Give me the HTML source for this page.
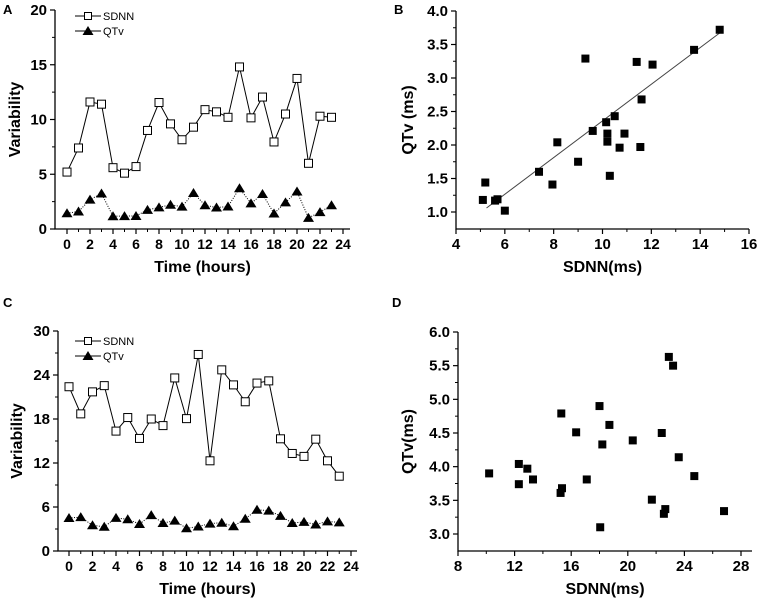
<!DOCTYPE html>
<html><head><meta charset="utf-8"><style>
body{margin:0;background:#fff;}
svg{display:block;font-family:"Liberation Sans",Arial,sans-serif;}
</style></head><body>
<svg id="fig" width="760" height="602" viewBox="0 0 760 602"></svg>
<script>
const hours = [0,1,2,3,4,5,6,7,8,9,10,11,12,13,14,15,16,17,18,19,20,21,22,23];
const sdnnA = [5.2,7.4,11.6,11.4,5.6,5.1,5.7,9.0,11.55,9.6,8.15,9.3,10.9,10.7,10.2,14.8,10.15,12.05,7.95,10.5,13.75,6.0,10.3,10.2];
const qtvA = [1.44,1.60,2.68,3.24,1.17,1.18,1.19,1.75,1.97,2.21,2.04,3.29,2.17,1.96,2.05,3.72,2.34,3.20,1.41,2.43,3.42,1.02,1.54,2.17];
const sdnnC = [22.4,18.7,21.7,22.55,16.35,18.2,15.35,18.0,17.1,23.6,18.05,26.8,12.3,24.7,22.65,20.35,22.9,23.2,15.3,13.3,12.9,15.25,12.3,10.2];
const qtvC = [4.50,4.62,3.51,3.30,4.51,4.33,3.68,4.90,3.81,4.14,3.10,3.34,3.74,3.86,3.37,4.39,5.63,5.50,4.79,3.81,3.97,3.61,4.04,3.90];
const fitB = [[5.25,1.06],[14.9,3.7]];
const ticksA_y = [0,5,10,15,20];
const ticksTime = [0,2,4,6,8,10,12,14,16,18,20,22,24];
const ticksB_x = [4,6,8,10,12,14,16];
const ticksB_y = [1.0,1.5,2.0,2.5,3.0,3.5,4.0];
const ticksC_y = [0,6,12,18,24,30];
const ticksD_x = [8,12,16,20,24,28];
const ticksD_y = [3.0,3.5,4.0,4.5,5.0,5.5,6.0];

const NS='http://www.w3.org/2000/svg';
const svg=document.getElementById('fig');
function el(tag,attrs,parent,text){const e=document.createElementNS(NS,tag);for(const k in attrs)e.setAttribute(k,attrs[k]);if(text!==undefined)e.textContent=text;(parent||svg).appendChild(e);return e;}
function lin(d0,d1,p0,p1){return v=>p0+(v-d0)*(p1-p0)/(d1-d0);}

function panel(c){
  const g=el('g',{});
  
  
  const X=lin(c.xd[0],c.xd[1],c.xp[0],c.xp[1]);
  const Y=lin(c.yd[0],c.yd[1],c.yp[0],c.yp[1]);
  const ax=el('path',{d:`M${c.axL},${c.axT} V${c.axB} H${c.axR}`,stroke:'#000','stroke-width':1.3,fill:'none'},g);
  
  
  c.yt.forEach(v=>{const y=Y(v);el('line',{x1:c.axL-5,x2:c.axL,y1:y,y2:y,stroke:'#000','stroke-width':1.2},g);
    const t=el('text',{x:c.axL-8,y:y+5,'text-anchor':'end','font-size':15,'font-weight':'bold'},g,c.yfmt(v));
    
    });
  for(let i=0;i<c.yt.length-1;i++){const y=Y((c.yt[i]+c.yt[i+1])/2);el('line',{x1:c.axL-3,x2:c.axL,y1:y,y2:y,stroke:'#000','stroke-width':1},g);}
  c.xt.forEach(v=>{const x=X(v);el('line',{x1:x,x2:x,y1:c.axB,y2:c.axB+5,stroke:'#000','stroke-width':1.2},g);
    const t=el('text',{x:x,y:c.axB+20,'text-anchor':'middle','font-size':c.xfs||15,'font-weight':'bold'},g,String(v));
    
    });
  for(let i=0;i<c.xt.length-1;i++){const x=X((c.xt[i]+c.xt[i+1])/2);el('line',{x1:x,x2:x,y1:c.axB,y2:c.axB+3,stroke:'#000','stroke-width':1},g);}
  const xt=el('text',{x:(c.axL+c.axR)/2,y:c.axB+43,'text-anchor':'middle','font-size':16,'font-weight':'bold'},g,c.xlabel);
  
  
  const cy=(c.axT+c.axB)/2;
  const yt=el('text',{x:c.ylx,y:cy,'text-anchor':'middle','font-size':16,'font-weight':'bold',transform:`rotate(-90 ${c.ylx} ${cy})`},g,c.ylabel);
  
  
  const pl=el('text',{x:c.lx,y:c.ly,'font-size':13,'font-weight':'bold'},g,c.letter);
  
  
  return {g,X,Y};
}
function sq(g,x,y,s,filled,name){const r=el('rect',{x:x-s/2,y:y-s/2,width:s,height:s,fill:filled?'#000':'#fff',stroke:'#000','stroke-width':1},g);
  
  }
function tri(g,x,y,name){const p=el('path',{d:`M${x},${y-5} L${x+5.5},${y+4} L${x-5.5},${y+4}Z`,fill:'#000'},g);
  
  }
function timeSeries(P,s1,s2){
  el('polyline',{points:hours.map((h,i)=>P.X(h)+','+P.Y(s2[i])).join(' '),fill:'none',stroke:'#000','stroke-width':1,'stroke-dasharray':'1,1.5'},P.g);
  el('polyline',{points:hours.map((h,i)=>P.X(h)+','+P.Y(s1[i])).join(' '),fill:'none',stroke:'#000','stroke-width':1},P.g);
  hours.forEach((h,i)=>sq(P.g,P.X(h),P.Y(s1[i]),8,false,'sdnn-point'));
  hours.forEach((h,i)=>tri(P.g,P.X(h),P.Y(s2[i]),'qtv-point'));
}
function legend(g,x,y){
  const l=el('g',{},g);
  
  
  el('line',{x1:x,x2:x+26,y1:y,y2:y,stroke:'#000'},l);sq(l,x+13,y,7,false,'legend-marker-sdnn');
  el('text',{x:x+28,y:y+4,'font-size':11},l,'SDNN');
  el('line',{x1:x,x2:x+26,y1:y+15,y2:y+15,stroke:'#000'},l);tri(l,x+13,y+15,'legend-marker-qtv');
  el('text',{x:x+28,y:y+19,'font-size':11},l,'QTv');
}
const f0=v=>String(v), f1=v=>v.toFixed(1);

const A=panel({name:'panel-a',letter:'A',lx:3,ly:14,xd:[0,24],xp:[67,343],yd:[0,20],yp:[229,10],axL:55,axR:350,axT:10,axB:229,
  xt:ticksTime,yt:ticksA_y,yfmt:f0,xlabel:'Time (hours)',ylabel:'Variability',ylx:20,xfs:14});
timeSeries(A,sdnnA,qtvA);legend(A.g,75,16);

const B=panel({name:'panel-b',letter:'B',lx:394,ly:14,xd:[4,16],xp:[456,749],yd:[1,4],yp:[212,11],axL:456,axR:749,axT:11,axB:229,
  xt:ticksB_x,yt:ticksB_y,yfmt:f1,xlabel:'SDNN(ms)',ylabel:'QTv (ms)',ylx:413});
const fl=el('line',{x1:B.X(fitB[0][0]),y1:B.Y(fitB[0][1]),x2:B.X(fitB[1][0]),y2:B.Y(fitB[1][1]),stroke:'#444','stroke-width':1},B.g);


sdnnA.forEach((v,i)=>sq(B.g,B.X(v),B.Y(qtvA[i]),7,true,'scatter-point'));

const C=panel({name:'panel-c',letter:'C',lx:3,ly:307,xd:[0,24],xp:[69,351],yd:[0,30],yp:[551,331],axL:58,axR:357,axT:331,axB:551,
  xt:ticksTime,yt:ticksC_y,yfmt:f0,xlabel:'Time (hours)',ylabel:'Variability',ylx:22,xfs:14});
timeSeries(C,sdnnC,qtvC);legend(C.g,75,341);

const D=panel({name:'panel-d',letter:'D',lx:392,ly:307,xd:[8,28],xp:[458,741],yd:[3,6],yp:[534,332],axL:458,axR:752,axT:332,axB:551,
  xt:ticksD_x,yt:ticksD_y,yfmt:f1,xlabel:'SDNN(ms)',ylabel:'QTv(ms)',ylx:413});
sdnnC.forEach((v,i)=>sq(D.g,D.X(v),D.Y(qtvC[i]),7,true,'scatter-point'));
</script>
</body></html>
